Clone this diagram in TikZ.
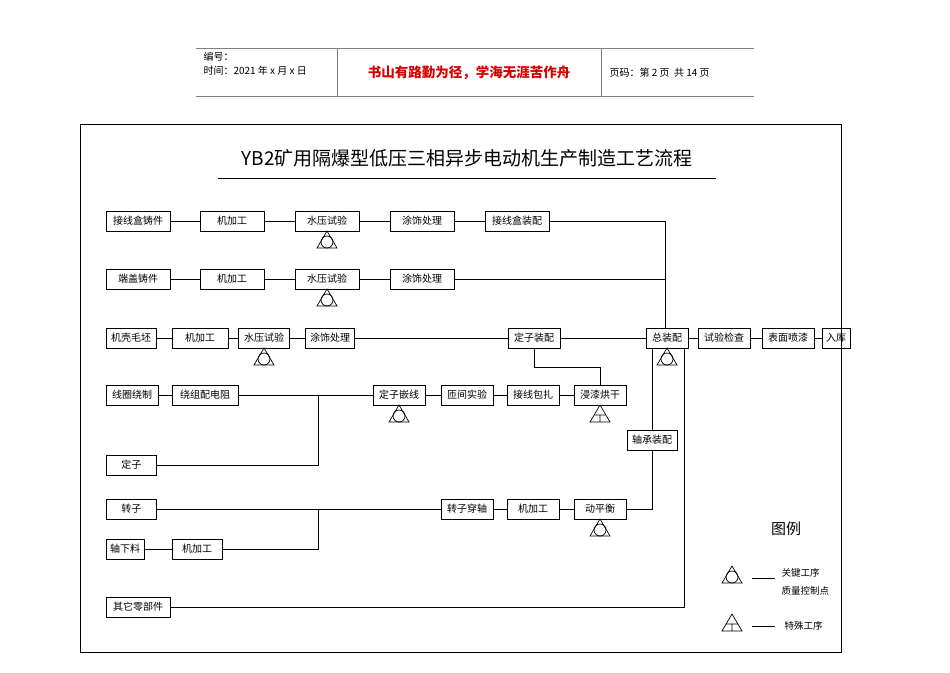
\documentclass[tikz,border=0pt]{standalone}
\usepackage{fontspec}
\newfontfamily\cjk{Noto Sans CJK SC}
\begin{document}
\begin{tikzpicture}[x=1pt,y=-1pt,
  bx/.style={draw,line width=0.8pt,minimum height=20pt,inner sep=1pt,font=\cjk\fontsize{10}{10}\selectfont},
  ln/.style={line width=0.8pt},
  key/.pic={\draw[line width=0.7pt] (0,0)--(-10,17)--(10,17)--cycle; \draw[line width=0.7pt] (0,11) circle (6);},
  spc/.pic={\draw[line width=0.7pt] (0,0)--(-10,17)--(10,17)--cycle (-6,10)--(6,10) (0,10)--(0,17);}]
\useasboundingbox (0,0) rectangle (950,672);
\fill[white] (0,0) rectangle (950,672);
% header
\draw[gray,line width=0.8pt] (196,48)--(754,48) (196,96)--(754,96) (337,48)--(337,96) (601,48)--(601,96);
\node[anchor=west,font=\cjk\fontsize{10}{10}\selectfont] (h1) at (200,57) {编号：};
\node[anchor=west,font=\cjk\fontsize{10}{10}\selectfont] (h2) at (200,71) {时间：2021 年 x 月 x 日};
\node[font=\cjk\bfseries\fontsize{13.5}{13.5}\selectfont,text=red!85!black] (h3) at (469,73) {书山有路勤为径，学海无涯苦作舟};
\node[anchor=west,font=\cjk\fontsize{10}{10}\selectfont] (h4) at (606,73) {页码：第 2 页\ \ 共 14 页};
% frame & title
\draw[line width=0.8pt] (80,124) rectangle (841,652);
\node[font=\cjk\fontsize{19}{19}\selectfont] (title) at (467,158) {YB2矿用隔爆型低压三相异步电动机生产制造工艺流程};
\draw[line width=0.8pt] (218,178)--(716,178);
% boxes
\node[bx,minimum width=64] (a1) at (138,221) {接线盒铸件};
\node[bx,minimum width=64] (a2) at (232,221) {机加工};
\node[bx,minimum width=64] (a3) at (327,221) {水压试验};
\node[bx,minimum width=64] (a4) at (422,221) {涂饰处理};
\node[bx,minimum width=64] (a5) at (517,221) {接线盒装配};
\node[bx,minimum width=64] (b1) at (138,279) {端盖铸件};
\node[bx,minimum width=64] (b2) at (232,279) {机加工};
\node[bx,minimum width=64] (b3) at (327,279) {水压试验};
\node[bx,minimum width=64] (b4) at (422,279) {涂饰处理};
\node[bx,minimum width=50] (c1) at (131,338) {机壳毛坯};
\node[bx,minimum width=56] (c2) at (200,338) {机加工};
\node[bx,minimum width=51] (c3) at (264,338) {水压试验};
\node[bx,minimum width=49] (c4) at (330,338) {涂饰处理};
\node[bx,minimum width=52] (c5) at (534,338) {定子装配};
\node[bx,minimum width=42] (c6) at (667,338) {总装配};
\node[bx,minimum width=52] (c7) at (724,338) {试验检查};
\node[bx,minimum width=52] (c8) at (788,338) {表面喷漆};
\node[bx,minimum width=28] (c9) at (836,338) {入库};
\node[bx,minimum width=52] (d1) at (132,395) {线圈绕制};
\node[bx,minimum width=66] (d2) at (205,395) {绕组配电阻};
\node[bx,minimum width=52] (d3) at (399,395) {定子嵌线};
\node[bx,minimum width=52] (d4) at (467,395) {匝间实验};
\node[bx,minimum width=52] (d5) at (533,395) {接线包扎};
\node[bx,minimum width=52] (d6) at (600,395) {浸漆烘干};
\node[bx,minimum width=50,anchor=west] (e1) at (106,465) {定子};
\node[bx,minimum width=50] (f0) at (652,440) {轴承装配};
\node[bx,minimum width=50,anchor=west] (g1) at (106,509) {转子};
\node[bx,minimum width=52] (g2) at (467,509) {转子穿轴};
\node[bx,minimum width=52] (g3) at (533,509) {机加工};
\node[bx,minimum width=52] (g4) at (600,509) {动平衡};
\node[bx,minimum width=38] (h5) at (125,549) {轴下料};
\node[bx,minimum width=50] (h6) at (197,549) {机加工};
\node[bx,minimum width=64] (k1) at (138,607) {其它零部件};
% connectors
\draw[ln] (a1)--(a2) (a2)--(a3) (a3)--(a4) (a4)--(a5);
\draw[ln] (a5.east)--(665,221)--(665,328);
\draw[ln] (b1)--(b2) (b2)--(b3) (b3)--(b4) (b4.east)--(665,279);
\draw[ln] (c1)--(c2) (c2)--(c3) (c3)--(c4) (c4)--(c5) (c5)--(c6) (c6)--(c7) (c7)--(c8) (c8)--(c9);
\draw[ln] (d1)--(d2) (d2)--(d3) (d3)--(d4) (d4)--(d5) (d5)--(d6);
\draw[ln] (c5.south)--(534,367)--(600,367)--(d6.north);
\draw[ln] (318,395)--(318,465)--(e1.east);
\draw[ln] (g1)--(g2) (g2)--(g3) (g3)--(g4);
\draw[ln] (g4.east)--(652,509)--(f0.south) (f0.north)--(652,348);
\draw[ln] (h5)--(h6) (h6.east)--(318,549)--(318,509);
\draw[ln] (k1.east)--(684,607)--(684,348);
% symbols
\pic at (327,231) {key}; \pic at (327,289) {key}; \pic at (264,348) {key};
\pic at (667,348) {key}; \pic at (399,405) {key}; \pic at (600,519) {key};
\pic at (600,405) {spc};
% legend
\node[font=\cjk\fontsize{15}{15}\selectfont] (lg) at (786,529) {图例};
\pic at (732,566) {key};
\draw[ln] (752,578)--(775,578);
\node[anchor=west,font=\cjk\fontsize{9.5}{9.5}\selectfont] (l1) at (778,573) {关键工序};
\node[anchor=west,font=\cjk\fontsize{9.5}{9.5}\selectfont] (l2) at (778,591) {质量控制点};
\pic at (732,614) {spc};
\draw[ln] (752,626)--(775,626);
\node[anchor=west,font=\cjk\fontsize{9.5}{9.5}\selectfont] (l3) at (781,626) {特殊工序};
\end{tikzpicture}
\end{document}
